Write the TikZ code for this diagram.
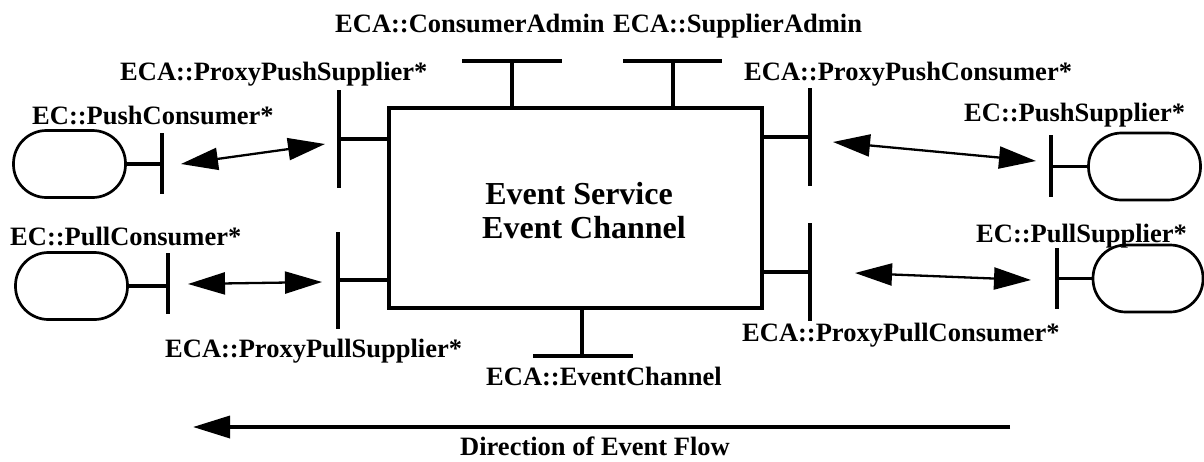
\documentclass[tikz,border=0pt]{standalone}
\usepackage{fontspec}
\setmainfont{Liberation Serif}
\usetikzlibrary{arrows.meta}
\begin{document}
\begin{tikzpicture}[x=1pt,y=-1pt,
  lbl/.style={anchor=base west, inner sep=0pt, font=\fontsize{26.5}{30}\selectfont\bfseries},
  big/.style={anchor=base, inner sep=0pt, font=\fontsize{32}{34}\selectfont\bfseries},
  heavy/.style={line width=3.5pt},
  client/.style={draw, line width=2.7pt, rounded corners=33pt, minimum width=112pt, minimum height=67pt, inner sep=0pt},
  link/.style={line width=2.3pt, {Triangle[length=37pt,width=22pt]}-{Triangle[length=37pt,width=22pt]}},
  flow/.style={line width=3.5pt, -{Triangle[length=37pt,width=22pt]}},
]
\useasboundingbox (0,0) rectangle (1204,461);

% main box
\node[draw, heavy, minimum width=373pt, minimum height=200pt, inner sep=0pt] (box) at (575.5,208) {};
\node[big] (evs1) at (579,204) {Event Service};
\node[big] (evs2) at (584,238) {Event Channel};

% clients
\node[client] (pushc) at (69.5,164) {};
\node[client] (pullc) at (71.5,286) {};
\node[client] (pushs) at (1144.5,166.5) {};
\node[client, minimum width=110pt] (pulls) at (1148,278.5) {};

% client bars
\coordinate (pushcT) at (162,133); \coordinate (pushcB) at (162,194); \coordinate (pushcM) at (162,164);
\coordinate (pullcT) at (168,253); \coordinate (pullcB) at (168,314); \coordinate (pullcM) at (168,286);
\coordinate (pushsT) at (1051,135); \coordinate (pushsB) at (1051,197); \coordinate (pushsM) at (1051,166.5);
\coordinate (pullsT) at (1057,248); \coordinate (pullsB) at (1057,309); \coordinate (pullsM) at (1057,278.5);
\draw[heavy] (pushcT) -- (pushcB);
\draw[heavy] (pullcT) -- (pullcB);
\draw[heavy] (pushsT) -- (pushsB);
\draw[heavy] (pullsT) -- (pullsB);
\draw[heavy] (pushc.east) -- (pushcM);
\draw[heavy] (pullc.east) -- (pullcM);
\draw[heavy] (pushs.west) -- (pushsM);
\draw[heavy] (pulls.west) -- (pullsM);

% proxy bars
\coordinate (ppsT) at (339,90);  \coordinate (ppsB) at (339,188); \coordinate (ppsM) at (339,139);
\coordinate (plsT) at (338,232); \coordinate (plsB) at (338,329); \coordinate (plsM) at (338,280);
\coordinate (ppcT) at (810,88);  \coordinate (ppcB) at (810,186); \coordinate (ppcM) at (810,137);
\coordinate (plcT) at (810,223); \coordinate (plcB) at (810,321); \coordinate (plcM) at (810,272);
\draw[heavy] (ppsT) -- (ppsB);
\draw[heavy] (plsT) -- (plsB);
\draw[heavy] (ppcT) -- (ppcB);
\draw[heavy] (plcT) -- (plcB);
\draw[heavy] (ppsM) -- (box.west |- ppsM);
\draw[heavy] (plsM) -- (box.west |- plsM);
\draw[heavy] (ppcM) -- (box.east |- ppcM);
\draw[heavy] (plcM) -- (box.east |- plcM);

% admin T's
\coordinate (caL) at (462,61); \coordinate (caR) at (562,61); \coordinate (caM) at (512,61);
\coordinate (saL) at (623,61); \coordinate (saR) at (722,61); \coordinate (saM) at (673,61);
\draw[heavy] (caL) -- (caR);
\draw[heavy] (saL) -- (saR);
\draw[heavy] (caM) -- (box.north -| caM);
\draw[heavy] (saM) -- (box.north -| saM);

% event channel T
\coordinate (ecL) at (533,356); \coordinate (ecR) at (633,356); \coordinate (ecM) at (582,356);
\draw[heavy] (ecL) -- (ecR);
\draw[heavy] (box.south -| ecM) -- (ecM);

% double arrows
\coordinate (a1L) at (181,164); \coordinate (a1R) at (325,144);
\coordinate (a2L) at (188,284); \coordinate (a2R) at (322,282);
\coordinate (a3L) at (833,142); \coordinate (a3R) at (1036,161);
\coordinate (a4L) at (855,273); \coordinate (a4R) at (1031,280);
\draw[link] (a1L) -- (a1R);
\draw[link] (a2L) -- (a2R);
\draw[link] (a3L) -- (a3R);
\draw[link] (a4L) -- (a4R);

% direction of flow
\coordinate (flowS) at (1010,427); \coordinate (flowE) at (193,427);
\draw[flow] (flowS) -- (flowE);

% labels
\node[lbl] (lca) at (335,32) {ECA::ConsumerAdmin};
\node[lbl] (lsa) at (613,32) {ECA::SupplierAdmin};
\node[lbl] (lpps) at (120,80) {ECA::ProxyPushSupplier*};
\node[lbl] (lppc) at (744,80) {ECA::ProxyPushConsumer*};
\node[lbl] (lpushc) at (32,124) {EC::PushConsumer*};
\node[lbl] (lpushs) at (964,121) {EC::PushSupplier*};
\node[lbl] (lpullc) at (10,245) {EC::PullConsumer*};
\node[lbl] (lpulls) at (976,242) {EC::PullSupplier*};
\node[lbl] (lpls) at (165,357) {ECA::ProxyPullSupplier*};
\node[lbl] (lplc) at (742,341) {ECA::ProxyPullConsumer*};
\node[lbl] (lec) at (486,385) {ECA::EventChannel};
\node[lbl] (ldir) at (460,455) {Direction of Event Flow};
\end{tikzpicture}
\end{document}
